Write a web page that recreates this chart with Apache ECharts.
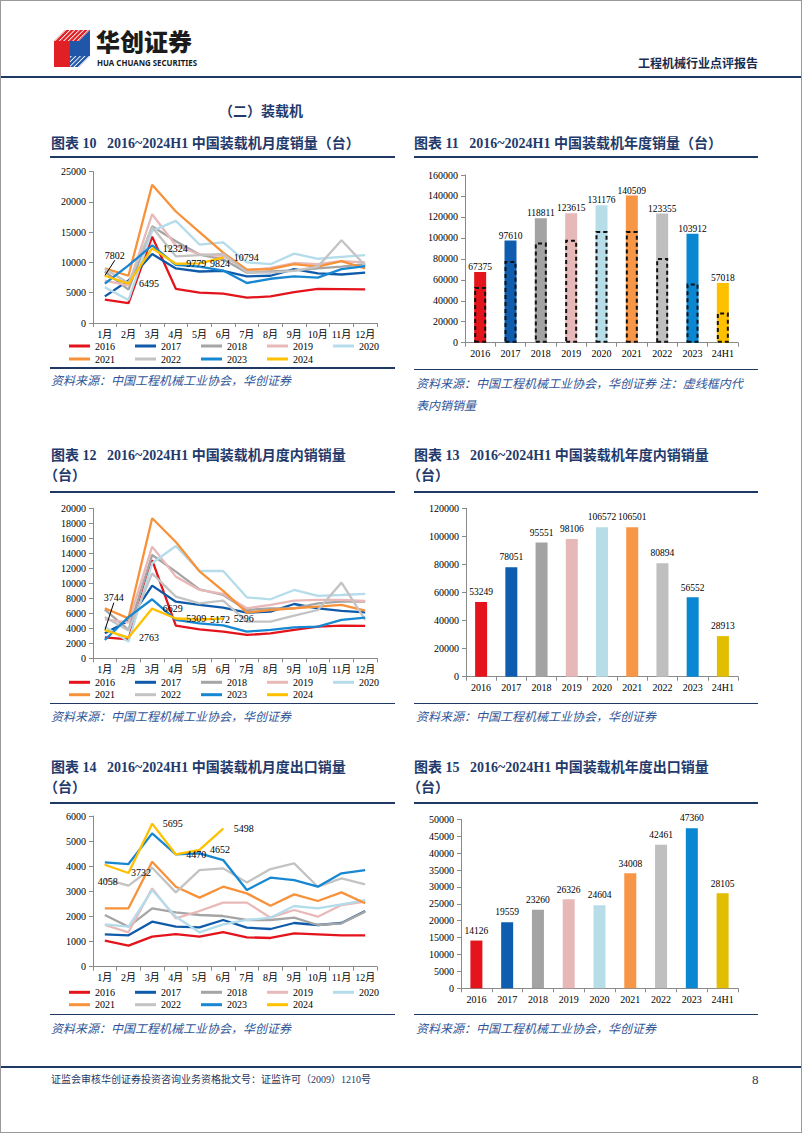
<!DOCTYPE html>
<html lang="zh-CN">
<head>
<meta charset="utf-8">
<title>装载机</title>
<script src="https://cdn.jsdelivr.net/npm/echarts@6.0.0/dist/echarts.min.js"></script>
<style>
html,body{margin:0;padding:0;background:#fff;}
#page{position:relative;width:802px;height:1133px;overflow:hidden;background:#fff;}
#chart{position:absolute;left:0;top:0;width:802px;height:1133px;}
.t{position:absolute;white-space:pre;line-height:1;font-family:'Liberation Serif','Noto Sans CJK SC',serif;}
.ttl{font-size:14px;font-weight:bold;color:#1F3A6B;}
.src{font-size:12px;font-style:italic;color:#2F5597;font-family:'Noto Sans CJK SC',sans-serif;}
.hl{position:absolute;background:#1F3864;}
#frame{position:absolute;left:0;top:0;width:802px;height:1133px;box-sizing:border-box;border:1px solid #9a9a9a;pointer-events:none;}
</style>
</head>
<body>
<div id="page">
  <div id="chart"></div>

  <!-- header -->
  <svg style="position:absolute;left:0;top:0" width="100" height="75" viewBox="0 0 100 75">
    <defs>
      <pattern id="stR" patternUnits="userSpaceOnUse" width="3.2" height="3.2" patternTransform="rotate(45)">
        <rect width="3.2" height="3.2" fill="#E02025"/><rect width="0.9" height="3.2" fill="#fff"/>
      </pattern>
      <pattern id="stB" patternUnits="userSpaceOnUse" width="3.2" height="3.2" patternTransform="rotate(45)">
        <rect width="3.2" height="3.2" fill="#1F56A8"/><rect width="0.9" height="3.2" fill="#fff"/>
      </pattern>
    </defs>
    <polygon points="54,41 65,30 90,30 79,41" fill="url(#stR)"/>
    <polygon points="54,41 70,41 70,67 54,67" fill="#E02025"/>
    <polygon points="70,41 79,41 90,30 90,56 70,56" fill="#1F56A8"/>
    <polygon points="70,56 90,56 79,67 70,67" fill="url(#stB)"/>
  </svg>
  <div class="t" id="logoCn" style="left:96px;top:29px;font-size:24px;line-height:24px;height:24px;font-weight:900;color:#1b1b1b;font-family:'Noto Sans CJK SC',sans-serif;">华创证券</div>
  <div class="t" id="logoEn" style="left:97px;top:59px;font-size:8.5px;line-height:8.5px;height:8.5px;font-weight:bold;color:#1b1b1b;font-family:'Noto Sans','DejaVu Sans',sans-serif;transform-origin:0 0;">HUA CHUANG SECURITIES</div>
  <div class="t" style="left:638px;top:57px;font-size:12px;font-weight:bold;color:#1a2c4e;font-family:'Noto Sans CJK SC',sans-serif;">工程机械行业点评报告</div>
  <div class="hl" style="left:0;top:76px;width:802px;height:2px;"></div>

  <div class="t ttl" style="left:219px;top:105px;">（二）装载机</div>

  <!-- row 1 titles -->
  <div class="t ttl" style="left:51px;top:137px;">图表 10   2016~2024H1 中国装载机月度销量（台）</div>
  <div class="t ttl" style="left:414px;top:137px;">图表 11   2016~2024H1 中国装载机年度销量（台）</div>
  <div class="hl" style="left:50px;top:156px;width:345px;height:2px;"></div>
  <div class="hl" style="left:414px;top:156px;width:344px;height:2px;"></div>
  <div class="hl" style="left:50px;top:367px;width:345px;height:1.5px;"></div>
  <div class="hl" style="left:414px;top:368.5px;width:344px;height:1.5px;"></div>
  <div class="t src" style="left:51px;top:374px;">资料来源：中国工程机械工业协会，华创证券</div>
  <div class="t src" style="left:416px;top:377px;">资料来源：中国工程机械工业协会，华创证券 注：虚线框内代</div>
  <div class="t src" style="left:416px;top:399px;">表内销销量</div>

  <!-- row 2 titles -->
  <div class="t ttl" style="left:51px;top:449px;">图表 12   2016~2024H1 中国装载机月度内销销量</div>
  <div class="t ttl" style="left:44px;top:469px;">（台）</div>
  <div class="t ttl" style="left:414px;top:449px;">图表 13   2016~2024H1 中国装载机年度内销销量</div>
  <div class="t ttl" style="left:407px;top:469px;">（台）</div>
  <div class="hl" style="left:50px;top:491px;width:345px;height:2px;"></div>
  <div class="hl" style="left:414px;top:491px;width:344px;height:2px;"></div>
  <div class="hl" style="left:50px;top:702.5px;width:345px;height:1.5px;"></div>
  <div class="hl" style="left:414px;top:702.5px;width:344px;height:1.5px;"></div>
  <div class="t src" style="left:51px;top:710px;">资料来源：中国工程机械工业协会，华创证券</div>
  <div class="t src" style="left:416px;top:710px;">资料来源：中国工程机械工业协会，华创证券</div>

  <!-- row 3 titles -->
  <div class="t ttl" style="left:51px;top:761px;">图表 14   2016~2024H1 中国装载机月度出口销量</div>
  <div class="t ttl" style="left:44px;top:781px;">（台）</div>
  <div class="t ttl" style="left:414px;top:761px;">图表 15   2016~2024H1 中国装载机年度出口销量</div>
  <div class="t ttl" style="left:407px;top:781px;">（台）</div>
  <div class="hl" style="left:50px;top:802px;width:345px;height:2px;"></div>
  <div class="hl" style="left:414px;top:802px;width:344px;height:2px;"></div>
  <div class="hl" style="left:50px;top:1013.5px;width:345px;height:1.5px;"></div>
  <div class="hl" style="left:414px;top:1013.5px;width:344px;height:1.5px;"></div>
  <div class="t src" style="left:51px;top:1022px;">资料来源：中国工程机械工业协会，华创证券</div>
  <div class="t src" style="left:416px;top:1022px;">资料来源：中国工程机械工业协会，华创证券</div>

  <!-- footer -->
  <div class="hl" style="left:0;top:1066px;width:802px;height:2px;"></div>
  <div class="t" style="left:51px;top:1075px;font-size:10px;color:#1F3864;">证监会审核华创证券投资咨询业务资格批文号：证监许可（2009）1210号</div>
  <div class="t" style="left:752px;top:1073px;font-size:13px;color:#1F3864;">8</div>

  <div id="frame"></div>
</div>

<script>
// ---------------- DATA ----------------
const months = ['1月','2月','3月','4月','5月','6月','7月','8月','9月','10月','11月','12月'];
const yearNames = ['2016','2017','2018','2019','2020','2021','2022','2023','2024'];
const barCats = ['2016','2017','2018','2019','2020','2021','2022','2023','24H1'];

// 图表10 月度销量
const tot16 = [3840, 3290, 14250, 5640, 5000, 4850, 4180, 4380, 5100, 5640, 5590, 5540];
const tot17 = [4400, 7000, 11400, 9000, 8500, 8600, 7700, 7800, 8900, 8200, 8000, 8300];
const tot18 = [8500, 5500, 15950, 13500, 11300, 10500, 8300, 8500, 8700, 9000, 9300, 9700];
const tot19 = [7000, 6200, 17950, 12800, 11300, 11100, 8700, 9100, 9900, 9700, 10200, 10000];
const tot20 = [5900, 3800, 15200, 16850, 12950, 13300, 10000, 9700, 11450, 10600, 10900, 11200];
const tot21 = [9000, 7800, 22800, 18400, 15000, 11600, 8800, 8900, 9700, 9300, 10200, 9000];
const tot22 = [8900, 6600, 15800, 11000, 11200, 11400, 8400, 8300, 8600, 9300, 13650, 9500];
const tot23 = [6500, 9500, 12800, 9600, 9300, 8650, 6600, 7300, 7700, 7500, 8900, 9400];
const tot24 = [7802, 6495, 12324, 9779, 9824, 10794];

// 图表12 月度内销
const dom16 = [2800, 2530, 13100, 4350, 3870, 3560, 3110, 3330, 3780, 4220, 4350, 4310];
const dom17 = [3330, 5000, 9690, 7550, 7110, 6750, 6090, 6220, 7240, 6670, 6310, 6130];
const dom18 = [6500, 3800, 13780, 11550, 9200, 8440, 6440, 6670, 6670, 7330, 7550, 7550];
const dom19 = [5200, 4800, 14890, 10890, 9110, 8580, 6670, 7110, 7690, 7780, 7780, 7640];
const dom20 = [4220, 2220, 12670, 14980, 11640, 11640, 8130, 7870, 9110, 8310, 8440, 8580];
const dom21 = [6670, 5330, 18670, 15500, 11600, 9000, 6090, 6440, 6670, 6890, 7110, 6360];
const dom22 = [5500, 3700, 11330, 8220, 7330, 7690, 4890, 4890, 5690, 6440, 10090, 5110];
const dom23 = [2440, 5500, 7870, 5110, 4670, 4400, 3560, 3780, 4130, 4220, 5110, 5420];
const dom24 = [3744, 2763, 6629, 5309, 5172, 5296];

// 图表14 月度出口
const exp16 = [1035, 837, 1196, 1301, 1196, 1380, 1170, 1143, 1327, 1288, 1248, 1248];
const exp17 = [1288, 1248, 1793, 1594, 1568, 1860, 1555, 1501, 1740, 1660, 1740, 2218];
const exp18 = [2058, 1594, 2324, 2165, 2058, 2018, 1860, 1860, 1952, 1660, 1727, 2192];
const exp19 = [1660, 1369, 3118, 1925, 2218, 2550, 2550, 1952, 2258, 1992, 2457, 2590];
const exp20 = [1687, 1594, 3052, 1992, 1369, 1687, 1860, 1952, 2417, 2324, 2483, 2655];
const exp21 = [2324, 2324, 4181, 3185, 2749, 3185, 2920, 2430, 2880, 2616, 2960, 2523];
const exp22 = [3490, 3225, 3941, 2959, 3848, 3915, 3357, 3888, 4114, 3185, 3517, 3278];
const exp23 = [4154, 4087, 5308, 4472, 4512, 4246, 3052, 3543, 3450, 3185, 3716, 3848];
const exp24 = [4058, 3732, 5695, 4470, 4652, 5498];

// 年度
const annualTotal    = [67375, 97610, 118811, 123615, 131176, 140509, 123355, 103912, 57018];
const annualDomestic = [53249, 78051, 95551, 98106, 106572, 106501, 80894, 56552, 28913];
const annualExport   = [14126, 19559, 23260, 26326, 24604, 34008, 42461, 47360, 28105];

// ---------------- STYLE ----------------
const FONT = "'Liberation Serif','Noto Sans CJK SC',serif";
const AX = '#8a8a8a';
const lineColors = ['#E3141B','#0F5BAA','#A5A5A5','#E8B9B8','#B4DCEA','#F7923A','#C3C3C3','#1787D2','#FFC000'];
const barColors11 = ['#E3141B','#0F5DAE','#A3A3A3','#E6B8B7','#B7DDE8','#F79646','#BFBFBF','#0A87D2','#FFC000'];
const barColors = ['#E3141B','#0F5DAE','#A3A3A3','#E6B8B7','#B7DDE8','#F79646','#BFBFBF','#0A87D2','#E2BE00'];

const grids = [
  {left:93,  top:171.5, width:284, height:151.5},
  {left:465, top:175,   width:273, height:167.7},
  {left:93,  top:508.3, width:284, height:150},
  {left:466, top:508.3, width:272, height:168.4},
  {left:93,  top:816,   width:284, height:150.7},
  {left:461, top:819.3, width:277, height:169}
];
const yCfg = [[25000,5000],[160000,20000],[20000,2000],[120000,20000],[6000,1000],[50000,5000]];

const xAxes = grids.map((g,i)=>({
  type:'category', gridIndex:i, data: (i%2===0) ? months : barCats, boundaryGap:true,
  axisLine:{show:true, lineStyle:{color:AX, width:1}},
  axisTick:{show:true, length:4, alignWithLabel:false, lineStyle:{color:AX}},
  axisLabel:{fontFamily:FONT, fontSize:10, color:'#000', margin:6, interval:0},
  splitLine:{show:false}
}));
const yAxes = grids.map((g,i)=>({
  type:'value', gridIndex:i, min:0, max:yCfg[i][0], interval:yCfg[i][1],
  axisLine:{show:true, lineStyle:{color:AX, width:1}},
  axisTick:{show:true, length:4, lineStyle:{color:AX}},
  axisLabel:{fontFamily:FONT, fontSize:10, color:'#000', margin:7, formatter:v=>String(v)},
  splitLine:{show:false}
}));

function lineSet(gi, arrays, cfg) {
  return arrays.map((arr, k) => {
    const s = {
      type:'line', name:yearNames[k], xAxisIndex:gi, yAxisIndex:gi, data:arr,
      symbol:'none', lineStyle:{width:2.3, color:lineColors[k]}, itemStyle:{color:lineColors[k]},
      z:2+k, silent:true
    };
    if (k === 8) {
      s.symbol = 'circle'; s.symbolSize = 1; s.showSymbol = true; s.showAllSymbol = true;
      s.label = {show:true, position:'right', distance:10, fontFamily:FONT, fontSize:10, color:'#000'};
      s.labelLine = {show:false, lineStyle:{color:'#000', width:1}};
      s.data = arr.map((v,i) => {
        if (i === 0) return {value:v, label:{position:cfg.pos0, distance:5}, labelLine:{show:cfg.line}};
        if (cfg.dist && cfg.dist[i] != null) return {value:v, label:{distance:cfg.dist[i]}};
        return v;
      });
      s.labelLayout = p => (p.dataIndex === 0 ? {dx:cfg.dx, dy:cfg.dy} : {});
    }
    return s;
  });
}

function barSeries(gi, vals, colors, dist) {
  return {
    type:'bar', xAxisIndex:gi, yAxisIndex:gi, barWidth:12, barGap:'-100%', silent:true,
    data: vals.map((v,i)=>({value:v, itemStyle:{color:colors[i]}})),
    label:{show:true, position:'top', distance:dist, fontFamily:FONT, fontSize:9.5, color:'#000', formatter:'{c}'}
  };
}

function legendPair(top1, top2) {
  const base = {left:69, itemWidth:21, itemHeight:3, itemGap:20, icon:'rect', padding:0, selectedMode:false,
    textStyle:{fontFamily:FONT, fontSize:10, color:'#000'}};
  return [
    Object.assign({}, base, {top:top1, data:['2016','2017','2018','2019','2020']}),
    Object.assign({}, base, {top:top2, data:['2021','2022','2023','2024']})
  ];
}

const series = [].concat(
  lineSet(0, [tot16,tot17,tot18,tot19,tot20,tot21,tot22,tot23,tot24], {pos0:'top', dx:10, dy:-10, line:true}),
  lineSet(2, [dom16,dom17,dom18,dom19,dom20,dom21,dom22,dom23,dom24], {pos0:'top', dx:9, dy:-22, line:true}),
  lineSet(4, [exp16,exp17,exp18,exp19,exp20,exp21,exp22,exp23,exp24], {pos0:'bottom', dx:3, dy:6, line:false, dist:{1:2}}),
  [
    barSeries(1, annualTotal, barColors11, 0),
    {
      type:'bar', xAxisIndex:1, yAxisIndex:1, barWidth:12, barGap:'-100%', silent:true, z:3,
      data: annualDomestic,
      itemStyle:{color:'rgba(0,0,0,0)', borderColor:'#111', borderWidth:2, borderType:[4,3]}
    },
    barSeries(3, annualDomestic, barColors, 5),
    barSeries(5, annualExport, barColors, 5)
  ]
);

const option = {
  animation:false,
  backgroundColor:'transparent',
  grid: grids,
  xAxis: xAxes,
  yAxis: yAxes,
  legend: [].concat(legendPair(341, 354), legendPair(677.3, 689.7), legendPair(987.3, 999.7)),
  series: series
};

const chart = echarts.init(document.getElementById('chart'), null, {renderer:'svg', width:802, height:1133});
chart.setOption(option);

// fit logo English line to its width
(function(){
  const el = document.getElementById('logoEn');
  const w = el.getBoundingClientRect().width;
  if (w > 0) el.style.transform = 'scaleX(' + (100 / w) + ')';
})();
</script>
</body>
</html>
